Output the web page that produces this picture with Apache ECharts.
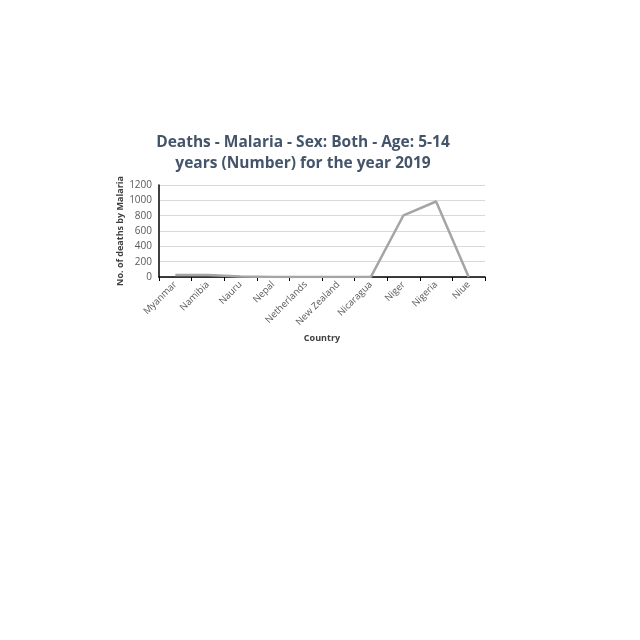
<!DOCTYPE html>
<html>
<head>
<meta charset="utf-8">
<script src="https://cdn.jsdelivr.net/npm/echarts@6/dist/echarts.min.js"></script>
<style>
html,body{margin:0;padding:0;background:#fff;}
#chart{width:640px;height:640px;}
</style>
</head>
<body>
<div id="chart"></div>
<script>
var categories = ["Myanmar","Namibia","Nauru","Nepal","Netherlands","New Zealand","Nicaragua","Niger","Nigeria","Niue"];
var deaths = [25, 25, 8, 1, 0, 0, 2, 805, 985, 0];
var yTicks = [0, 200, 400, 600, 800, 1000, 1200];

var chart = echarts.init(document.getElementById('chart'), null, {renderer:'canvas'});
chart.setOption({
  backgroundColor: '#ffffff',
  animation: false,
  title: {
    text: 'Deaths - Malaria - Sex: Both - Age: 5-14\nyears (Number) for the year 2019',
    left: 298,
    textAlign: 'center',
    top: 127,
    textStyle: {
      fontFamily: 'Open Sans',
      fontWeight: 'bold',
      fontSize: 15.5,
      lineHeight: 21,
      color: '#44546a'
    }
  },
  grid: { left: 159, right: 155, top: 185, bottom: 363 },
  xAxis: {
    type: 'category',
    data: categories,
    boundaryGap: true,
    name: 'Country',
    nameLocation: 'middle',
    nameGap: 57,
    nameMoveOverlap: false,
    nameTextStyle: { fontFamily: 'Open Sans', fontWeight: 'bold', fontSize: 9, color: '#404040' },
    axisLine: { lineStyle: { color: '#000000', width: 1.5 } },
    axisTick: { show: true, alignWithLabel: false, length: 4, lineStyle: { color: '#000000' } },
    axisLabel: { rotate: 45, fontFamily: 'Open Sans', fontSize: 9.5, color: '#595959', margin: 6, interval: 0 }
  },
  yAxis: {
    type: 'value',
    min: 0,
    max: 1200,
    interval: 200,
    name: 'No. of deaths by Malaria',
    nameLocation: 'middle',
    nameGap: 34,
    nameMoveOverlap: false,
    nameTextStyle: { fontFamily: 'Open Sans', fontWeight: 'bold', fontSize: 9, color: '#404040' },
    axisLine: { show: true, lineStyle: { color: '#000000', width: 1.5 } },
    axisTick: { show: false },
    axisLabel: { fontFamily: 'Open Sans', fontSize: 10, color: '#595959', margin: 7,
      formatter: function(v){ return yTicks.indexOf(v) >= 0 ? String(v) : ''; } },
    splitLine: { show: true, lineStyle: { color: '#d9d9d9', width: 1 } }
  },
  series: [{
    type: 'line',
    data: deaths,
    symbol: 'none',
    lineStyle: { color: '#a5a5a5', width: 2.5 },
    itemStyle: { color: '#a5a5a5' }
  }]
});
</script>
</body>
</html>
